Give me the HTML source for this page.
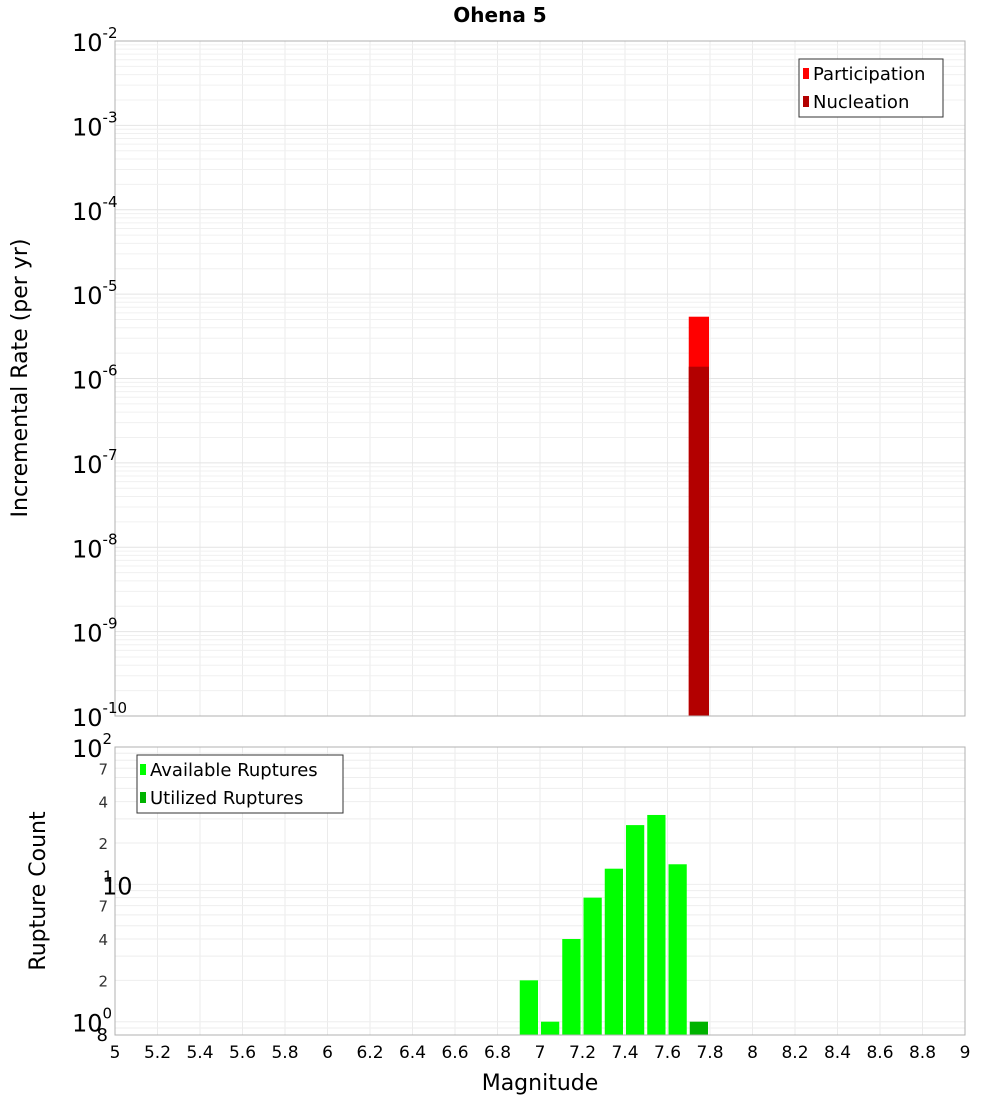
<!DOCTYPE html>
<html><head><meta charset="utf-8"><style>
body{margin:0;background:#fff;}
svg{display:block;font-family:"DejaVu Sans","Liberation Sans",sans-serif;}
</style></head><body>
<svg id="c" width="1000" height="1100" xmlns="http://www.w3.org/2000/svg"></svg>
<script>
const binCenters=[6.95,7.05,7.15,7.25,7.35,7.45,7.55,7.65];
const availableCounts=[2,1,4,8,13,27,32,14];
const utilizedCenters=[7.75];
const utilizedCounts=[1];
const rateCenters=[7.75];
const participationRates=[5.4e-6];
const nucleationRates=[1.38e-6];
const xTicks=[5,5.2,5.4,5.6,5.8,6,6.2,6.4,6.6,6.8,7,7.2,7.4,7.6,7.8,8,8.2,8.4,8.6,8.8,9];
const topExps=[-2,-3,-4,-5,-6,-7,-8,-9,-10];
const botMinor=[[70,"7"],[40,"4"],[20,"2"],[7,"7"],[4,"4"],[2,"2"]];

const NS="http://www.w3.org/2000/svg";
const svg=document.getElementById('c');
function el(tag,attrs,parent,text){const e=document.createElementNS(NS,tag);for(const k in attrs)e.setAttribute(k,attrs[k]);if(text!==undefined)e.textContent=text;(parent||svg).appendChild(e);return e;}
const X0=115,X1=965;
const x=v=>X0+(v-5)/4*(X1-X0);
const T0=41,T1=716;
const yTop=v=>T0+(-2-Math.log10(v))/8*(T1-T0);
const B0=747,B1=1035,bMin=Math.log10(0.8);
const yBot=v=>B0+(2-Math.log10(v))/(2-bMin)*(B1-B0);

// title
let t=el('text',{x:500,y:22,'text-anchor':'middle','font-size':20,'font-weight':'bold'},svg,'Ohena 5');


// plot backgrounds
let g=el('g',{});
for(const v of xTicks){el('line',{x1:x(v),x2:x(v),y1:T0,y2:T1,stroke:'#ebebeb'},g);}
for(let e=-10;e<-2;e++){for(let m=1;m<10;m++){const yy=yTop(m*Math.pow(10,e));el('line',{x1:X0,x2:X1,y1:yy,y2:yy,stroke:m==1?'#e4e4e4':'#f0f0f0'},g);}}
let g2=el('g',{});
for(const v of xTicks){el('line',{x1:x(v),x2:x(v),y1:B0,y2:B1,stroke:'#ebebeb'},g2);}
for(let e=-1;e<2;e++){for(let m=1;m<10;m++){const val=m*Math.pow(10,e);if(val<0.8)continue;const yy=yBot(val);el('line',{x1:X0,x2:X1,y1:yy,y2:yy,stroke:'#eeeeee'},g2);}}

// top bars
rateCenters.forEach((c,i)=>{
  let r=el('rect',{x:x(c-0.05),y:yTop(participationRates[i]),width:x(c+0.05)-x(c-0.05)-1,height:T1-yTop(participationRates[i]),fill:'#ff0000'});
  
  let n=el('rect',{x:x(c-0.05),y:yTop(nucleationRates[i]),width:x(c+0.05)-x(c-0.05)-1,height:T1-yTop(nucleationRates[i]),fill:'#b30000'});
  
});
// bottom bars
binCenters.forEach((c,i)=>{
  const yy=yBot(availableCounts[i]);
  let r=el('rect',{x:x(c-0.05)+1,y:yy,width:x(c+0.05)-x(c-0.05)-3,height:B1-yy,fill:'#00ff00'});
  
});
utilizedCenters.forEach((c,i)=>{
  const yy=yBot(utilizedCounts[i]);
  let r=el('rect',{x:x(c-0.05)+1,y:yy,width:x(c+0.05)-x(c-0.05)-3,height:B1-yy,fill:'#00b300'});
  
});

// borders
el('rect',{x:X0,y:T0,width:X1-X0,height:T1-T0,fill:'none',stroke:'#b0b0b0'});
el('rect',{x:X0,y:B0,width:X1-X0,height:B1-B0,fill:'none',stroke:'#b0b0b0'});

// top y labels
topExps.forEach(e=>{
  const yy=yTop(Math.pow(10,e));
  let tt=el('text',{x:72,y:yy+10,'font-size':24},svg);
  
  el('tspan',{},tt,'10');el('tspan',{dy:-13,'font-size':15},tt,String(e));
});
// bottom y labels
[[100,"2"],[1,"0"]].forEach(([v,ex])=>{
  const yy=yBot(v);
  let tt=el('text',{x:72,y:yy+10,'font-size':24},svg);
  
  el('tspan',{},tt,'10');el('tspan',{dy:-13,'font-size':15},tt,ex);
});
el('text',{x:102,y:yBot(10)+10,'font-size':24},svg,'10');
el('text',{x:103,y:yBot(10)-3,'font-size':15},svg,'1');
botMinor.forEach(([v,l])=>{let tt=el('text',{x:108,y:yBot(v)+6,'font-size':15,'text-anchor':'end',fill:'#333'},svg,l);
  });
el('text',{x:108,y:1041,'font-size':18,'text-anchor':'end'},svg,'8');

// x labels
xTicks.forEach(v=>{let tt=el('text',{x:x(v),y:1058,'font-size':17,'text-anchor':'middle'},svg,String(v));
  });
t=el('text',{x:540,y:1090,'font-size':22,'text-anchor':'middle'},svg,'Magnitude');

t=el('text',{x:0,y:0,'font-size':22,'text-anchor':'middle',transform:'translate(27,378) rotate(-90)'},svg,'Incremental Rate (per yr)');

t=el('text',{x:0,y:0,'font-size':22,'text-anchor':'middle',transform:'translate(45,891) rotate(-90)'},svg,'Rupture Count');


// legends
let lg=el('g',{});
el('rect',{x:799,y:59,width:144,height:58,fill:'#fff',stroke:'#333'},lg);
el('rect',{x:803,y:68,width:6,height:11,fill:'#ff0000'},lg);
el('text',{x:813,y:80,'font-size':18},lg,'Participation');
el('rect',{x:803,y:96,width:6,height:11,fill:'#b30000'},lg);
el('text',{x:813,y:108,'font-size':18},lg,'Nucleation');
let lg2=el('g',{});
el('rect',{x:137,y:755,width:206,height:58,fill:'#fff',stroke:'#333'},lg2);
el('rect',{x:140,y:764,width:6,height:11,fill:'#00ff00'},lg2);
el('text',{x:150,y:776,'font-size':18},lg2,'Available Ruptures');
el('rect',{x:140,y:792,width:6,height:11,fill:'#00b300'},lg2);
el('text',{x:150,y:804,'font-size':18},lg2,'Utilized Ruptures');
</script>
</body></html>
